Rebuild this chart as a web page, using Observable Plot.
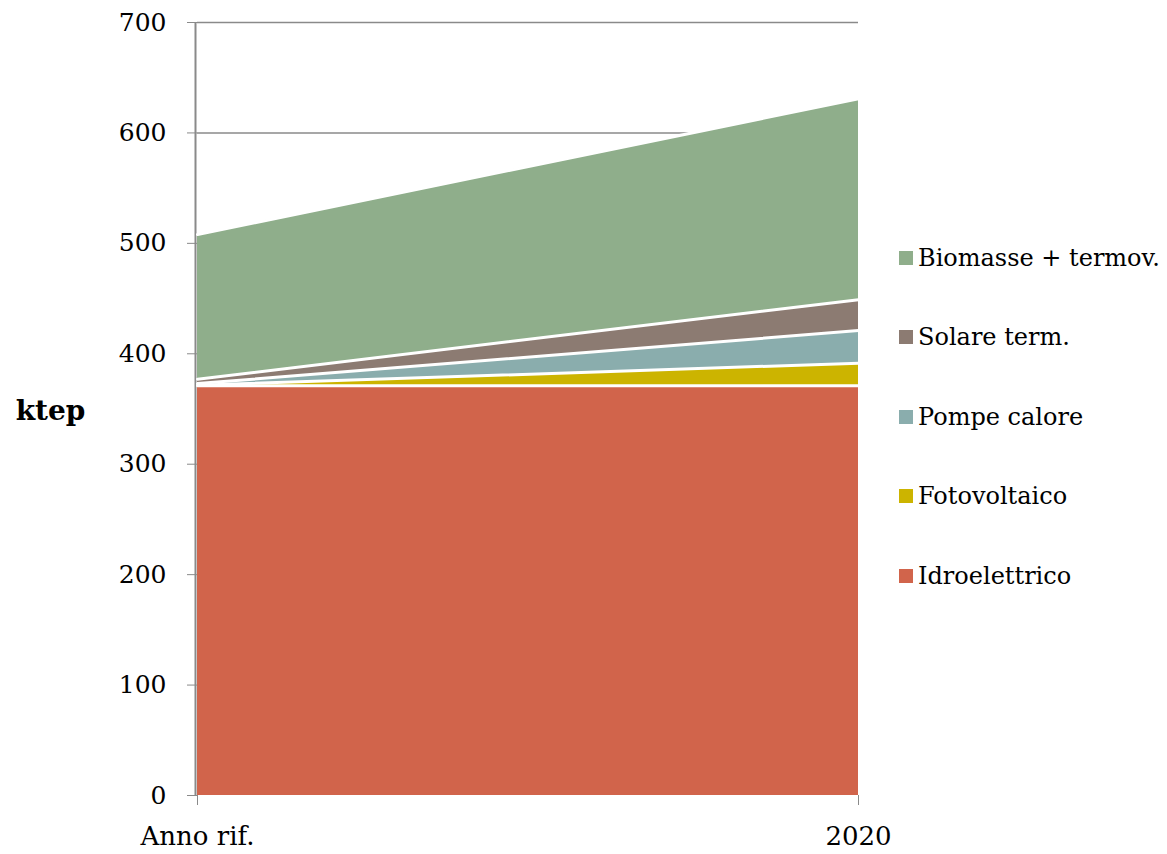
<!DOCTYPE html>
<html>
<head>
<meta charset="utf-8">
<script src="https://cdn.jsdelivr.net/npm/d3@7"></script>
<script src="https://cdn.jsdelivr.net/npm/@observablehq/plot@0.6"></script>
<style>
  html, body { margin: 0; padding: 0; background: #fff; }
  #wrap { position: relative; width: 1167px; height: 854px; }
  #legend { position: absolute; left: 899px; top: 218px; font-family: "DejaVu Serif", serif; font-size: 24px; color: #000; }
  #legend .item { height: 79.5px; display: flex; align-items: center; white-space: nowrap; }
  #legend .sw { width: 14px; height: 14px; margin-right: 5px; flex: none; }
</style>
</head>
<body>
<div id="wrap"><div id="legend"></div></div>
<script>
// Periods on the horizontal axis
const periods = ["Anno rif.", "2020"];
// Energy sources, bottom of the stack first
const sources = ["Idroelettrico", "Fotovoltaico", "Pompe calore", "Solare term.", "Biomasse + termov."];
const colors = ["#d1644b", "#ccb400", "#8aadad", "#8c7b72", "#8fae8b"];
// Values in ktep for each period
const idroelettrico = [371, 371];
const fotovoltaico = [0.5, 20.5];
const pompeCalore = [1.5, 29.5];
const solareTerm = [4, 28];
const biomasse = [131, 182];
const yTicks = [0, 100, 200, 300, 400, 500, 600, 700];

const seriesValues = [idroelettrico, fotovoltaico, pompeCalore, solareTerm, biomasse];
const rows = [];
sources.forEach((s, k) => {
  seriesValues[k].forEach((v, i) => rows.push({series: s, idx: i, value: v}));
});

const grey = "#8a8a8a";
const serif = "DejaVu Serif, serif";

const chart = Plot.plot({
  width: 1167,
  height: 854,
  marginLeft: 197,
  marginRight: 309,
  marginTop: 22,
  marginBottom: 59,
  style: {fontFamily: serif, background: "white"},
  x: {domain: [0, 1]},
  y: {domain: [0, 700]},
  color: {domain: sources, range: colors},
  marks: [
    Plot.gridY(yTicks.slice(1), {stroke: grey, strokeOpacity: 1, strokeWidth: 1.5}),
    Plot.ruleX([0], {stroke: grey, strokeWidth: 2, dx: -2}),
    Plot.areaY(rows, {x: "idx", y: "value", fill: "series", z: "series"}),
    Plot.lineY(rows, Plot.stackY2({x: "idx", y: "value", z: "series", stroke: "white", strokeWidth: 3})),
    Plot.axisY({ticks: yTicks, tickSize: 10, tickPadding: 21, stroke: grey, fill: "black", fontSize: 25, label: null, tickFormat: d => d}),
    Plot.axisX({ticks: [0, 1], tickSize: 10, tickPadding: 21, stroke: grey, fill: "black", fontSize: 26, label: null, tickFormat: i => periods[i]}),
    Plot.text(["ktep"], {frameAnchor: "left", dx: -147, dy: 2, textAnchor: "middle", text: d => d, fontSize: 28, fontWeight: "bold", fill: "black"})
  ]
});
document.getElementById("wrap").prepend(chart);
chart.style.position = "absolute";
chart.style.left = "0";
chart.style.top = "0";

// Legend, top entry first
const legend = d3.select("#legend");
sources.slice().reverse().forEach(s => {
  const item = legend.append("div").attr("class", "item");
  item.append("div").attr("class", "sw").style("background", colors[sources.indexOf(s)]);
  item.append("span").text(s);
});
</script>
</body>
</html>
